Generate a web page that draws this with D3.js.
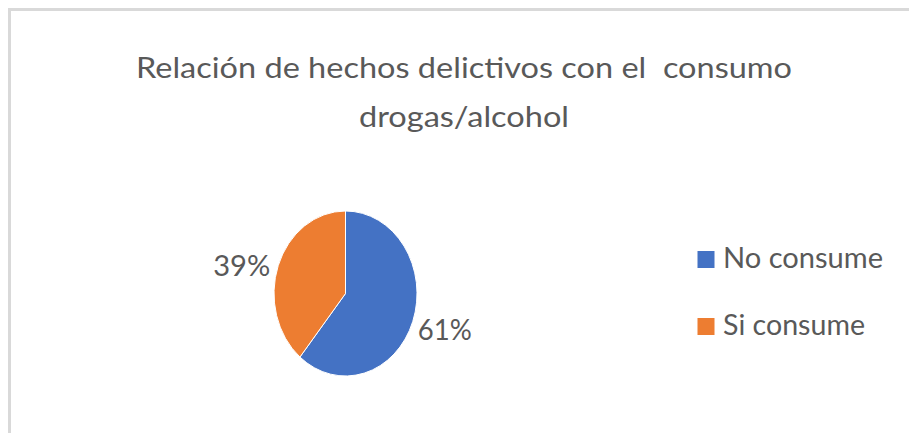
<!DOCTYPE html>
<html>
<head>
<meta charset="utf-8">
<script src="https://cdn.jsdelivr.net/npm/d3@7"></script>
<style>
  html, body { margin: 0; padding: 0; background: #ffffff; }
  svg { display: block; }
  text { white-space: pre; }
</style>
</head>
<body>
<svg id="chart" width="909" height="433"></svg>
<script>
// ---- data ----
const categories = ["No consume", "Si consume"];
const values = [61, 39];
const labels = ["61%", "39%"];
const titleLines = ["Relación de hechos delictivos con el  consumo", "drogas/alcohol"];
const colors = ["#4472C4", "#ED7D31"];

// ---- layout ----
const W = 909, H = 433;
const textColor = "#595959";
const fontFamily = "Lato, 'Open Sans', sans-serif";
const cx = 345.5, cy = 293.5, rx = 71.5, ry = 82.5;

const svg = d3.select("#chart");
svg.append("rect").attr("width", W).attr("height", H).attr("fill", "#fff");

// chart frame
svg.append("rect").attr("x", 9.5).attr("y", 9.5).attr("width", W + 20).attr("height", H + 20)
  .attr("fill", "none").attr("stroke", "#d9d9d9").attr("stroke-width", 3);

// title
const titleSpec = [
  { y: 78, len: 656 },
  { y: 127, len: 210 }
];
svg.append("g").selectAll("text").data(titleLines).join("text")
  .attr("x", 464)
  .attr("y", (d, i) => titleSpec[i].y)
  .attr("text-anchor", "middle")
  .attr("font-family", fontFamily)
  .attr("font-size", 29)
  .attr("fill", textColor)
  .attr("textLength", (d, i) => titleSpec[i].len)
  .attr("lengthAdjust", "spacingAndGlyphs")
  .text(d => d);

// pie
const pie = d3.pie().sort(null).value(d => d)(values);
const arc = d3.arc().innerRadius(0).outerRadius(rx);
const g = svg.append("g").attr("transform", `translate(${cx},${cy}) scale(1,${ry / rx})`);
g.selectAll("path").data(pie).join("path")
  .attr("d", arc)
  .attr("fill", (d, i) => colors[i])
  .attr("stroke", "#ffffff")
  .attr("stroke-width", 1)
  .attr("vector-effect", "non-scaling-stroke");

// data labels (outside end)
const labelAdj = [{ dx: 5, dy: 19, anchor: "start", len: 54 }, { dx: -8, dy: 10, anchor: "end", len: 57 }];
svg.append("g").selectAll("text").data(pie).join("text")
  .attr("x", (d, i) => {
    const a = (d.startAngle + d.endAngle) / 2;
    return cx + Math.sin(a) * rx + labelAdj[i].dx;
  })
  .attr("y", (d, i) => {
    const a = (d.startAngle + d.endAngle) / 2;
    return cy - Math.cos(a) * ry + labelAdj[i].dy;
  })
  .attr("text-anchor", (d, i) => labelAdj[i].anchor)
  .attr("font-family", fontFamily)
  .attr("font-size", 28)
  .attr("fill", textColor)
  .attr("textLength", (d, i) => labelAdj[i].len)
  .attr("lengthAdjust", "spacingAndGlyphs")
  .text((d, i) => labels[i]);

// legend
const legendY = d3.scalePoint().domain(categories).range([268, 335]);
const legendLen = [160, 142];
const lg = svg.append("g");
lg.selectAll("rect").data(categories).join("rect")
  .attr("x", 697.5)
  .attr("y", d => legendY(d) - 17)
  .attr("width", 17)
  .attr("height", 17)
  .attr("fill", (d, i) => colors[i]);
lg.selectAll("text").data(categories).join("text")
  .attr("x", 723)
  .attr("y", d => legendY(d))
  .attr("font-family", fontFamily)
  .attr("font-size", 28)
  .attr("fill", textColor)
  .attr("textLength", (d, i) => legendLen[i])
  .attr("lengthAdjust", "spacingAndGlyphs")
  .text(d => d);
</script>
</body>
</html>
